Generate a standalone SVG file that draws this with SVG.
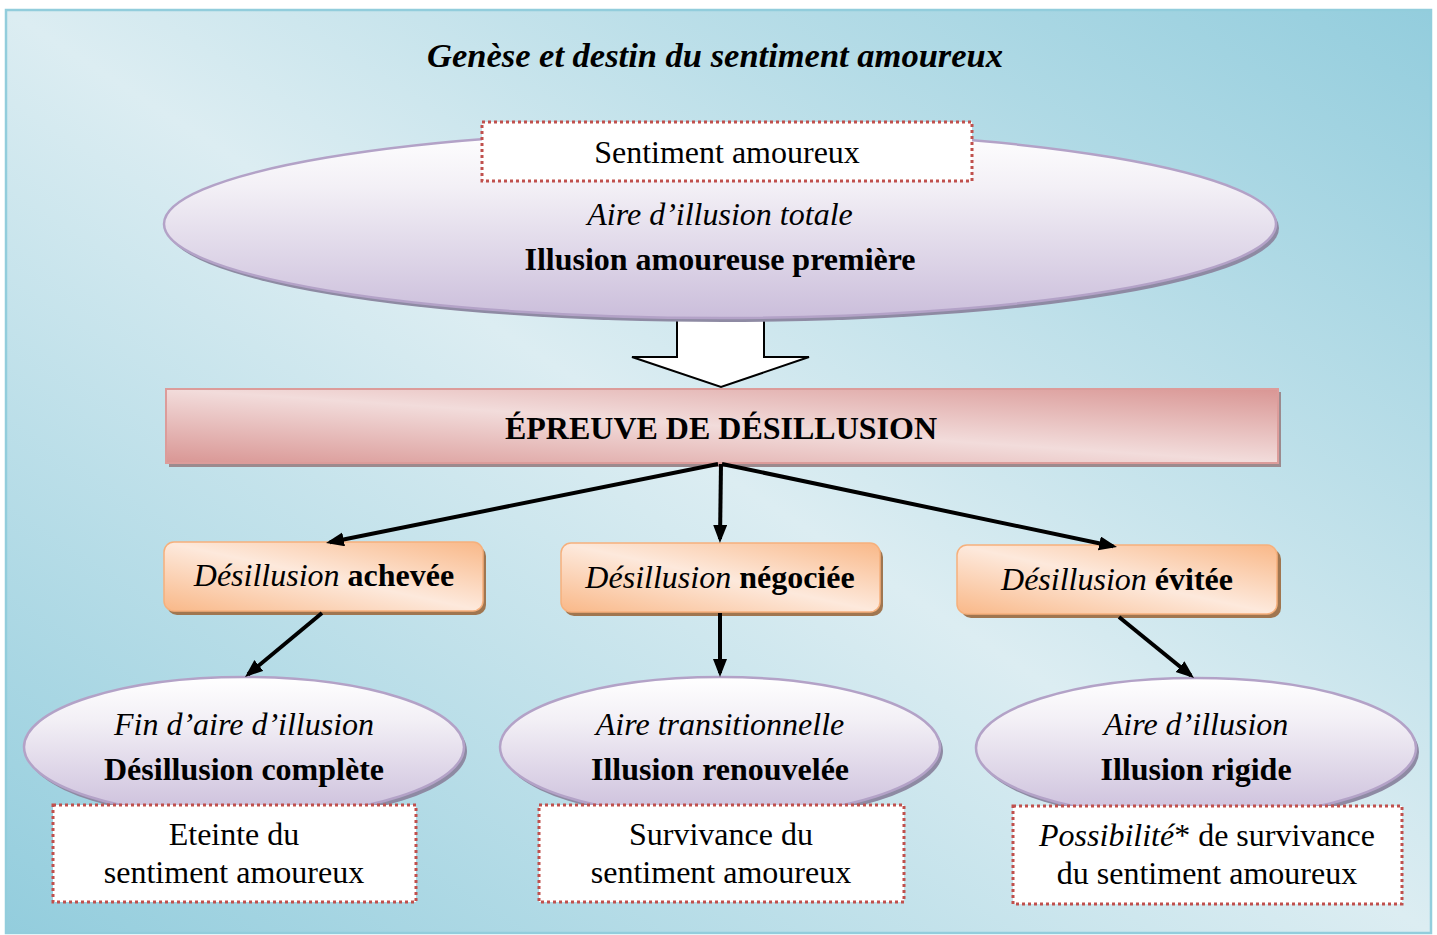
<svg xmlns="http://www.w3.org/2000/svg" width="1437" height="935" viewBox="0 0 1437 935">
<defs>
<linearGradient id="bg" x1="0" y1="1" x2="1" y2="0"><stop offset="0" stop-color="#93cddd"/><stop offset="0.5" stop-color="#dcedf2"/><stop offset="1" stop-color="#93cddd"/></linearGradient>
<linearGradient id="lav" x1="0" y1="0" x2="0" y2="1"><stop offset="0" stop-color="#ffffff"/><stop offset="0.3" stop-color="#f3f0f6"/><stop offset="1" stop-color="#cbbedb"/></linearGradient>
<linearGradient id="pink" x1="0" y1="1" x2="1" y2="0"><stop offset="0" stop-color="#d99694"/><stop offset="0.5" stop-color="#f2dcdb"/><stop offset="1" stop-color="#d99694"/></linearGradient>
<linearGradient id="orange" x1="0" y1="1" x2="1" y2="0"><stop offset="0" stop-color="#f9b888"/><stop offset="0.5" stop-color="#fde9dc"/><stop offset="1" stop-color="#f9b888"/></linearGradient>
<marker id="ah" markerUnits="userSpaceOnUse" markerWidth="20" markerHeight="16" refX="14" refY="7" orient="auto"><path d="M0,0 L18,7 L0,14 z" fill="#000"/></marker>
</defs>
<style>
text{font-family:"Liberation Serif","Times New Roman",serif;font-size:32px;fill:#000;text-anchor:middle}
.i{font-style:italic}
.b{font-weight:bold}
.ell{fill:url(#lav);stroke:#b3a2c7;stroke-width:2.5}
.esh{fill:#8e8aa3}
.dot{fill:#fff;stroke:#c0504d;stroke-width:3;stroke-dasharray:3 3}
.org{fill:url(#orange);stroke:#f6b07c;stroke-width:1.5}
.osh{fill:#a07650}
.con{stroke:#000;stroke-width:4;fill:none;marker-end:url(#ah)}
</style>
<rect x="6" y="10" width="1425" height="923" fill="url(#bg)" stroke="#92cddc" stroke-width="2.5"/>
<text x="715" y="67" class="i b" style="font-size:34.5px">Genèse et destin du sentiment amoureux</text>

<g id="block-arrow">
<polygon points="677,300 764,300 764,357 809,357 721,387 632,357 677,357" fill="#fff" stroke="#000" stroke-width="2"/>
</g>

<g id="illusion-premiere">
<ellipse class="esh" cx="723" cy="228" rx="556" ry="94"/>
<ellipse class="ell" cx="720" cy="224" rx="556" ry="94"/>
<text x="720" y="225" class="i">Aire d’illusion totale</text>
<text x="720" y="270" class="b">Illusion amoureuse première</text>
</g>

<g id="sentiment">
<rect class="dot" x="482" y="122" width="490" height="59"/>
<text x="727" y="163">Sentiment amoureux</text>
</g>

<g id="epreuve">
<rect x="169" y="392" width="1112" height="75" fill="#9c8a8e"/>
<rect x="166" y="389" width="1112" height="74" fill="url(#pink)" stroke="#dc9c9a" stroke-width="2"/>
<text x="721" y="439" class="b">ÉPREUVE DE DÉSILLUSION</text>
</g>

<g id="achevee">
<rect class="osh" x="167" y="546" width="319" height="69" rx="10"/>
<rect class="org" x="164" y="542" width="319" height="69" rx="10"/>
<text x="324" y="586"><tspan class="i">Désillusion</tspan> <tspan class="b">achevée</tspan></text>
</g>
<g id="negociee">
<rect class="osh" x="564" y="547" width="319" height="69" rx="10"/>
<rect class="org" x="561" y="543" width="319" height="69" rx="10"/>
<text x="720" y="588"><tspan class="i">Désillusion</tspan> <tspan class="b">négociée</tspan></text>
</g>
<g id="evitee">
<rect class="osh" x="961" y="549" width="320" height="69" rx="10"/>
<rect class="org" x="957" y="545" width="320" height="69" rx="10"/>
<text x="1117" y="590"><tspan class="i">Désillusion</tspan> <tspan class="b">évitée</tspan></text>
</g>

<g id="fin-illusion">
<ellipse class="esh" cx="247" cy="751" rx="220" ry="70"/>
<ellipse class="ell" cx="244" cy="747" rx="220" ry="70"/>
<text x="244" y="735" class="i">Fin d’aire d’illusion</text>
<text x="244" y="780" class="b">Désillusion complète</text>
</g>
<g id="transitionnelle">
<ellipse class="esh" cx="723" cy="751" rx="220" ry="70"/>
<ellipse class="ell" cx="720" cy="747" rx="220" ry="70"/>
<text x="720" y="735" class="i">Aire transitionnelle</text>
<text x="720" y="780" class="b">Illusion renouvelée</text>
</g>
<g id="rigide">
<ellipse class="esh" cx="1199" cy="752" rx="220" ry="70"/>
<ellipse class="ell" cx="1196" cy="748" rx="220" ry="70"/>
<text x="1196" y="735" class="i">Aire d’illusion</text>
<text x="1196" y="780" class="b">Illusion rigide</text>
</g>

<g id="eteinte">
<rect class="dot" x="53" y="805" width="363" height="97"/>
<text x="234" y="845">Eteinte du</text>
<text x="234" y="883">sentiment amoureux</text>
</g>
<g id="survivance">
<rect class="dot" x="539" y="805" width="365" height="97"/>
<text x="721" y="845">Survivance du</text>
<text x="721" y="883">sentiment amoureux</text>
</g>
<g id="possibilite">
<rect class="dot" x="1013" y="806" width="389" height="98"/>
<text x="1207" y="846"><tspan class="i">Possibilité</tspan>* de survivance</text>
<text x="1207" y="884">du sentiment amoureux</text>
</g>

<g id="connectors">
<line class="con" x1="718" y1="464" x2="329.9" y2="542.2"/>
<line class="con" x1="721" y1="464" x2="720" y2="539"/>
<line class="con" x1="722" y1="464" x2="1113.1" y2="546.2"/>
<line class="con" x1="322" y1="613" x2="248.1" y2="674.4"/>
<line class="con" x1="720" y1="613" x2="720" y2="673"/>
<line class="con" x1="1119" y1="617" x2="1190.9" y2="675.5"/>
</g>
</svg>
